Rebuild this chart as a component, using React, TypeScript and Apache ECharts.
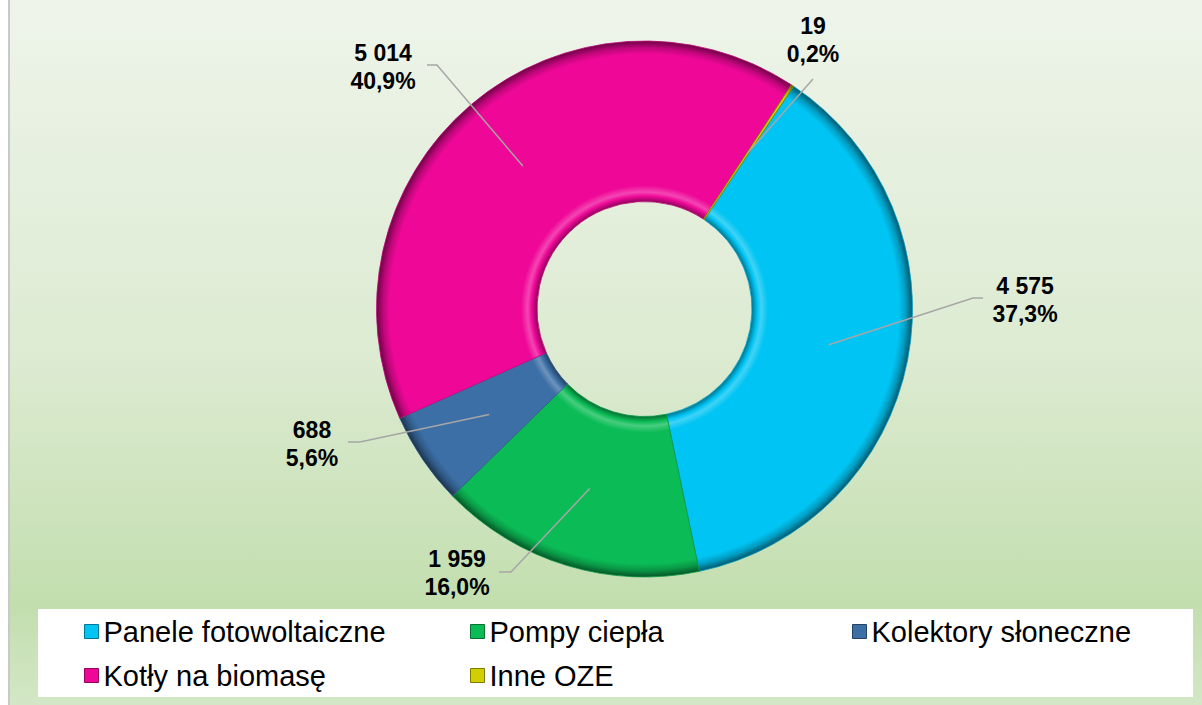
import React, { useEffect, useRef } from 'react';
import * as echarts from 'echarts';

const categories = ['Panele fotowoltaiczne', 'Pompy ciepła', 'Kolektory słoneczne', 'Kotły na biomasę', 'Inne OZE'];
const values = [4575, 1959, 688, 5014, 19];
const colors = ['#00C4F3', '#0BBC56', '#3C6FA6', '#EF0898', '#D2CF00'];

// layout constants
const CX = 644.5;
const CY = 309;
const R0 = 107.5;
const R1 = 268;
const START_FROM_TOP = 33.8; // degrees clockwise from 12 o'clock
// label text centre, elbow and end of each leader line
const labelLayoutCfg = [
  { x: 1025, y: 300, elbow: [973, 298], end: [983, 298] },
  { x: 457, y: 573, elbow: [511, 572], end: [499, 572] },
  { x: 312, y: 444, elbow: [360, 442], end: [348, 442] },
  { x: 383, y: 67, elbow: [437, 65], end: [427, 65] },
  { x: 813, y: 40, elbow: [813, 79], end: [813, 79] },
];

function shade(hex: string, f: number): string {
  const n = parseInt(hex.slice(1), 16);
  let r = (n >> 16) & 255, g = (n >> 8) & 255, b = n & 255;
  if (f < 1) { r *= f; g *= f; b *= f; }
  else { const t = f - 1; r += (255 - r) * t; g += (255 - g) * t; b += (255 - b) * t; }
  const h = (v: number) => Math.round(Math.max(0, Math.min(255, v))).toString(16).padStart(2, '0');
  return '#' + h(r) + h(g) + h(b);
}

function fmtNum(v: number): string {
  return String(v).replace(/\B(?=(\d{3})+(?!\d))/g, ' ');
}

export default function App() {
  const ref = useRef<HTMLDivElement>(null);
  useEffect(() => {
    if (!ref.current) return;
    const chart = echarts.init(ref.current, null, { renderer: 'svg' });
    const total = values.reduce((a, b) => a + b, 0);
    const t0 = R0 / R1;
    const mids: number[] = [];
    let acc = START_FROM_TOP;
    values.forEach((v) => {
      const span = (v / total) * 360;
      mids.push(acc + span / 2);
      acc += span;
    });
    const rMid = (R0 + R1) / 2;
    const data = categories.map((name, i) => ({
      name,
      value: values[i],
      itemStyle: {
        color: {
          type: 'radial', x: CX, y: CY, r: R1, global: true,
          colorStops: [
            { offset: 0, color: shade(colors[i], 0.55) },
            { offset: t0, color: shade(colors[i], 0.6) },
            { offset: t0 + 0.02, color: colors[i] },
            { offset: t0 + 0.035, color: shade(colors[i], 1.25) },
            { offset: t0 + 0.06, color: colors[i] },
            { offset: 0.95, color: colors[i] },
            { offset: 0.975, color: shade(colors[i], 0.8) },
            { offset: 1, color: shade(colors[i], 0.45) },
          ],
        },
        borderColor: shade(colors[i], i === 4 ? 0.6 : 0.8),
        borderWidth: 0.8,
      },
    }));
    const leaderLines = categories.map((_, i) => {
      const c = labelLayoutCfg[i];
      const a = (mids[i] * Math.PI) / 180;
      const start = [CX + rMid * Math.sin(a), CY - rMid * Math.cos(a)];
      return {
        type: 'polyline', z: 100, silent: true,
        shape: { points: [start, c.elbow, c.end] },
        style: { stroke: '#A6A6A6', lineWidth: 1.5, fill: 'none' },
      };
    });
    const legendText = { fontSize: 29, fontFamily: 'Liberation Sans', color: '#000' };
    const legendBase = {
      orient: 'vertical', top: 617, itemGap: 15, itemWidth: 14, itemHeight: 14,
      icon: 'rect', selectedMode: false, textStyle: legendText, padding: 0,
    };
    const legItem = (i: number) => ({ name: categories[i], itemStyle: { color: colors[i], borderColor: shade(colors[i], 0.6), borderWidth: 1 } });
    chart.setOption({
      animation: false,
      graphic: [
        {
          type: 'rect', z: -10, silent: true,
          shape: { x: 10, y: 0, width: 1192, height: 705 },
          style: {
            fill: {
              type: 'linear', x: 0, y: 0, x2: 0, y2: 1,
              colorStops: [
                { offset: 0, color: '#EEF4EA' },
                { offset: 0.5, color: '#DDEBD2' },
                { offset: 0.86, color: '#C2DEAE' },
                { offset: 1, color: '#D3E7C6' },
              ],
            },
          },
        },
        { type: 'rect', z: -9, silent: true, shape: { x: 8, y: 0, width: 2, height: 705 }, style: { fill: '#C9C9C9' } },
        { type: 'rect', z: -8, silent: true, shape: { x: 38, y: 609, width: 1155, height: 88 }, style: { fill: '#FFFFFF' } },
        ...leaderLines,
      ],
      legend: [
        { ...legendBase, left: 84, data: [legItem(0), legItem(3)] },
        { ...legendBase, left: 470, data: [legItem(1), legItem(4)] },
        { ...legendBase, left: 852, data: [legItem(2)] },
      ],
      series: [
        {
          type: 'pie',
          center: [CX, CY],
          radius: [R0, R1],
          startAngle: 90 - START_FROM_TOP,
          clockwise: true,
          avoidLabelOverlap: false,
          data,
          label: {
            show: true,
            position: 'outside',
            fontFamily: 'Liberation Sans',
            fontWeight: 'bold',
            fontSize: 23,
            lineHeight: 28,
            color: '#000',
            formatter: (p: any) => fmtNum(p.value) + '\n' + ((p.value / total) * 100).toFixed(1).replace('.', ',') + '%',
          },
          labelLine: { show: false },
          labelLayout: (p: any) => {
            const c = labelLayoutCfg[p.dataIndex];
            return { x: c.x, y: c.y, align: 'center', verticalAlign: 'middle' };
          },
          emphasis: { disabled: true },
        },
      ],
    });
    return () => chart.dispose();
  }, []);
  return <div ref={ref} style={{ position: 'absolute', left: 0, top: 0, width: 1202, height: 705 }} />;
}
